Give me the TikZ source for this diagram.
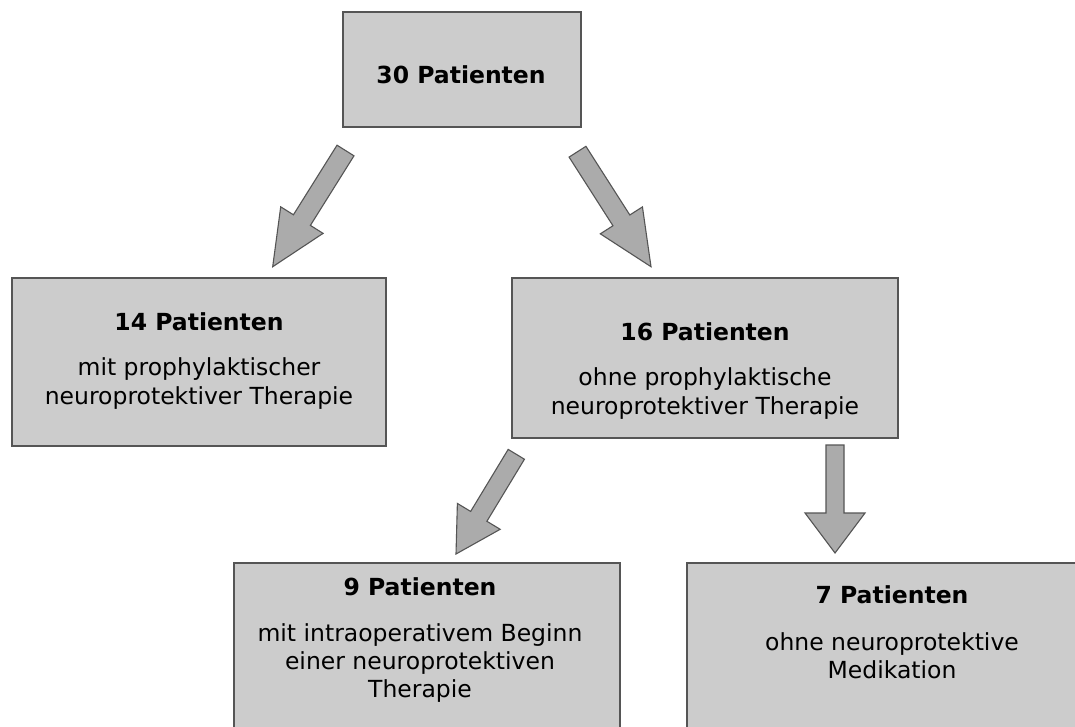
\documentclass[tikz,border=0pt]{standalone}
\usepackage{fontspec}
\setmainfont{DejaVu Sans}
\usetikzlibrary{calc}
\definecolor{boxfill}{HTML}{CCCCCC}
\definecolor{boxline}{HTML}{555555}
\definecolor{arrfill}{HTML}{ABABAB}
\tikzset{
  box/.style={draw=boxline, fill=boxfill, line width=1.3pt},
  blk/.style={draw=boxline, fill=arrfill, line width=1.1pt, line join=miter},
  ttl/.style={anchor=base, inner sep=0pt, font=\fontsize{23.5}{28}\selectfont\bfseries},
  txt/.style={anchor=base, inner sep=0pt, font=\fontsize{23.5}{28}\selectfont},
}
\newcommand{\blkarrow}[5]{%
  \coordinate (ab) at ($(#2)!#5!(#1)$);
  \filldraw[blk] ($(#1)!#3!90:(#2)$) -- ($(ab)!#3!90:(#2)$) -- ($(ab)!#4!90:(#2)$)
    -- (#2) -- ($(ab)!#4!-90:(#2)$) -- ($(ab)!#3!-90:(#2)$) -- ($(#1)!#3!-90:(#2)$) -- cycle;
}
\begin{document}
\begin{tikzpicture}[x=1pt,y=-1pt]
\clip (0,0) rectangle (1075,726);
\fill[white] (0,0) rectangle (1075,726);
% boxes
\draw[box] (343,12) rectangle (581,127);
\coordinate (bTop) at (462,69);
\draw[box] (12,278) rectangle (386,446);
\draw[box] (512,278) rectangle (898,438);
\draw[box] (234,563) rectangle (620,760);
\draw[box] (687,563) rectangle (1100,760);
% texts
\node[ttl] (t30) at (461,83) {30 Patienten};
\node[ttl] (t14) at (199,330) {14 Patienten};
\node[txt] (t14a) at (199,375) {mit prophylaktischer};
\node[txt] (t14b) at (199,404) {neuroprotektiver Therapie};
\node[ttl] (t16) at (705,340) {16 Patienten};
\node[txt] (t16a) at (705,385) {ohne prophylaktische};
\node[txt] (t16b) at (705,414) {neuroprotektiver Therapie};
\node[ttl] (t9) at (420,595) {9 Patienten};
\node[txt] (t9a) at (420,641) {mit intraoperativem Beginn};
\node[txt] (t9b) at (420,669) {einer neuroprotektiven};
\node[txt] (t9c) at (420,697) {Therapie};
\node[ttl] (t7) at (892,603) {7 Patienten};
\node[txt] (t7a) at (892,650) {ohne neuroprotektive};
\node[txt] (t7b) at (892,678) {Medikation};
% arrows
\coordinate (a1t) at (345.5,150.5);
\coordinate (a1h) at (272.7,266.7);
\coordinate (a2t) at (577.5,151.7);
\coordinate (a2h) at (651,266.7);
\coordinate (a3t) at (516.3,454.3);
\coordinate (a3h) at (456,554);
\coordinate (a4t) at (835,445);
\coordinate (a4h) at (835,553);
\blkarrow{a1t}{a1h}{10pt}{25pt}{55pt}
\blkarrow{a2t}{a2h}{10pt}{25pt}{55pt}
\blkarrow{a3t}{a3h}{9.5pt}{25pt}{44pt}
\blkarrow{a4t}{a4h}{9pt}{30pt}{40pt}
\end{tikzpicture}
\end{document}
